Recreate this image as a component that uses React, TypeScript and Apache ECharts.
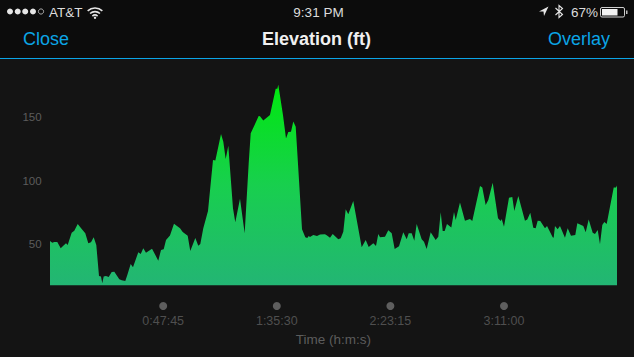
import React, { useEffect, useRef } from "react";
import * as echarts from "echarts";

const times = [10,68,119,194,280,345,414,456,557,623,709,810,900,976,1044,1112,1178,1246,1296,1329,1364,1422,1490,1566,1632,1758,1818,1909,1960,2045,2103,2237,2298,2363,2431,2583,2741,2810,2878,2936,3036,3137,3289,3357,3483,3548,3675,3750,3801,3876,3995,4121,4180,4323,4381,4441,4507,4625,4683,4802,4920,5021,5072,5273,5306,5389,5558,5702,5743,5768,5886,5962,6020,6088,6146,6207,6366,6449,6499,6535,6567,6650,6744,6820,6945,6988,7072,7140,7281,7342,7407,7468,7533,7659,7871,7972,8048,8164,8232,8290,8333,8459,8542,8628,8703,8812,8920,9006,9057,9132,9198,9258,9384,9442,9510,9611,9737,9803,9864,9914,9964,10022,10131,10199,10242,10350,10476,10602,10660,10855,10913,10998,11064,11175,11309,11377,11402,11460,11586,11669,11720,11821,11989,12047,12123,12199,12259,12310,12375,12494,12545,12688,12713,12746,12814,12872,12998,13066,13150,13258,13309,13460,13521,13596,13697,13755,13823,13881,13939,13990,14050,14227,14285,14310];
const elevation = [52.4,51.0,51.6,51.6,46.6,48.7,50.6,49.2,58.9,60.5,65.7,61.8,58.4,50.6,51.3,55.3,49.2,24.8,24.3,19.1,24.3,24.8,24.0,28.0,28.2,22.2,21.4,20.9,25.6,34.3,31.7,43.5,42.1,46.6,43.1,46.3,36.9,45.3,45.8,53.1,56.7,66.0,62.4,59.4,56.5,44.5,54.7,48.7,50,62.4,76.0,116.1,115.9,136.6,130.6,116.9,127.4,78.1,67.1,85.7,58.4,113.5,137.2,150.8,150.6,147.4,151.6,172.3,172.3,175.4,151.6,133.2,138.2,138.4,146.6,142.4,61.6,55.3,54.7,56.3,55.5,57.1,56.3,57.5,57.6,56.9,55.0,57.9,53.7,54.5,59.7,77.3,73.4,83.9,47.4,53.1,47.6,50.6,48.4,57.9,55.3,55.7,60.8,58.4,46.1,48.2,59.2,53.7,58.4,58.4,52.6,65.7,53.7,51.8,46.1,59.2,53.1,55.7,75.0,60.2,60.2,65.7,63.1,75.2,68.9,82.8,68.3,69.7,68.1,95.7,94.6,80.7,84.6,98.3,70.2,68.1,69.7,63.6,86.5,87.0,76.0,87.8,68.3,69.4,74.6,62.8,62.4,68.3,68.1,62.4,64.2,55.3,55.0,64.2,61.6,64.2,55.0,62.4,56.5,57.1,66.3,64.2,59.2,69.4,58.9,57.9,61.0,49.8,65.0,67.3,65.7,94.6,94.6,96.2];
const yTicks = [50, 100, 150];
const xTickSeconds = [2865, 5730, 8595, 11460];
const xTickLabels = ["0:47:45", "1:35:30", "2:23:15", "3:11:00"];
const dotLevel = 1.2;
const title = "Elevation (ft)";
const xName = "Time (h:m:s)";
const navLeft = "Close";
const navRight = "Overlay";
const carrier = "AT&T";
const clock = "9:31 PM";
const batteryText = "67%";

const FONT = "'Liberation Sans', Arial, sans-serif";
const BLUE = "#0ba5e6";

const statusText = (text: string, x: number, align: string) => ({
  type: "text", x, y: 12,
  style: { text, fill: "#dcdcdc", font: `13.5px ${FONT}`, textAlign: align, textVerticalAlign: "middle" },
});
const navText = (text: string, x: number, align: string, fill: string, weight = "normal") => ({
  type: "text", x, y: 39,
  style: { text, fill, font: `${weight} 18px ${FONT}`, textAlign: align, textVerticalAlign: "middle" },
});

export default function App() {
  const ref = useRef<HTMLDivElement>(null);
  useEffect(() => {
    document.body.style.margin = "0";
    document.body.style.background = "#141414";
    const chart = echarts.init(ref.current!, null, { renderer: "svg" });
    const signalX = [10, 17.7, 25.2, 33];
    chart.setOption({
      animation: false,
      backgroundColor: "#141414",
      textStyle: { fontFamily: FONT },
      grid: { left: 49.6, right: 17, top: 60, height: 225.5, containLabel: false },
      xAxis: {
        type: "value", min: 0, max: 14310, interval: 2865,
        splitLine: { show: false }, axisLine: { show: false }, axisTick: { show: false },
        name: xName, nameLocation: "middle", nameGap: 47,
        nameTextStyle: { color: "#5c5c5c", fontSize: 13.5, fontFamily: FONT },
        axisLabel: {
          color: "#4f4f4f", fontSize: 12.5, margin: 29, fontFamily: FONT, showMinLabel: false, showMaxLabel: false,
          formatter: (v: number) => { const i = xTickSeconds.indexOf(v); return i >= 0 ? xTickLabels[i] : ""; },
        },
      },
      yAxis: {
        type: "value", min: 17.3, max: 195,
        splitLine: { show: false }, axisLine: { show: false }, axisTick: { show: false },
        axisLabel: { color: "#5c5c5c", fontSize: 11.5, margin: 8, fontFamily: FONT, customValues: yTicks },
      },
      series: [
        {
          type: "line", data: times.map((t, i) => [t, elevation[i]]),
          showSymbol: false, symbol: "none", lineStyle: { width: 0 },
          areaStyle: {
            opacity: 1, origin: "start",
            color: new echarts.graphic.LinearGradient(0, 0, 0, 1, [
              { offset: 0, color: "#00e80f" },
              { offset: 0.5, color: "#18cf4e" },
              { offset: 1, color: "#23b574" },
            ]),
          },
        },
        {
          type: "scatter", clip: false, symbol: "circle", symbolSize: 8,
          itemStyle: { color: "#707070" },
          data: xTickSeconds.map((t) => [t, dotLevel]),
        },
      ],
      graphic: [
        { type: "rect", z: -1, shape: { x: 0, y: 0, width: 634, height: 58 }, style: { fill: "#0c0c0c" } },
        { type: "rect", shape: { x: 0, y: 58, width: 634, height: 1 }, style: { fill: BLUE } },
        ...signalX.map((cx) => ({ type: "circle", shape: { cx, cy: 11.5, r: 3 }, style: { fill: "#e6e6e6" } })),
        { type: "circle", shape: { cx: 41, cy: 11.5, r: 2.6 }, style: { fill: "none", stroke: "#cfcfcf", lineWidth: 0.8 } },
        statusText(carrier, 49, "left"),
        { type: "arc", shape: { cx: 95, cy: 19, r: 11, startAngle: -2.3, endAngle: -0.84 }, style: { fill: "none", stroke: "#e6e6e6", lineWidth: 1.6 } },
        { type: "arc", shape: { cx: 95, cy: 19, r: 7.4, startAngle: -2.3, endAngle: -0.84 }, style: { fill: "none", stroke: "#e6e6e6", lineWidth: 1.6 } },
        { type: "arc", shape: { cx: 95, cy: 19, r: 3.9, startAngle: -2.3, endAngle: -0.84 }, style: { fill: "none", stroke: "#e6e6e6", lineWidth: 1.6 } },
        { type: "circle", shape: { cx: 95, cy: 17.8, r: 1.2 }, style: { fill: "#e6e6e6" } },
        statusText(clock, 318.5, "center"),
        { type: "polygon", shape: { points: [[548.5, 6.5], [539, 11.5], [543.5, 11.5], [544, 16]] }, style: { fill: "#e6e6e6" } },
        { type: "polyline", shape: { points: [[555.5, 8], [562.5, 14.5], [559, 17.5], [559, 5.5], [562.5, 8.5], [555.5, 15]] }, style: { fill: "none", stroke: "#e6e6e6", lineWidth: 1.1 } },
        statusText(batteryText, 571, "left"),
        { type: "rect", shape: { x: 600.5, y: 7.5, width: 24, height: 9.5, r: 1.5 }, style: { fill: "none", stroke: "#cfcfcf", lineWidth: 1 } },
        { type: "rect", shape: { x: 602, y: 9, width: 15.5, height: 6.5 }, style: { fill: "#f2f2f2" } },
        { type: "rect", shape: { x: 626, y: 10.5, width: 1.5, height: 3.5 }, style: { fill: "#bdbdbd" } },
        navText(navLeft, 23, "left", BLUE),
        navText(title, 316.5, "center", "#f0f0f0", "bold"),
        navText(navRight, 610, "right", BLUE),
      ],
    });
    return () => chart.dispose();
  }, []);
  return <div ref={ref} style={{ width: 634, height: 357 }} />;
}
